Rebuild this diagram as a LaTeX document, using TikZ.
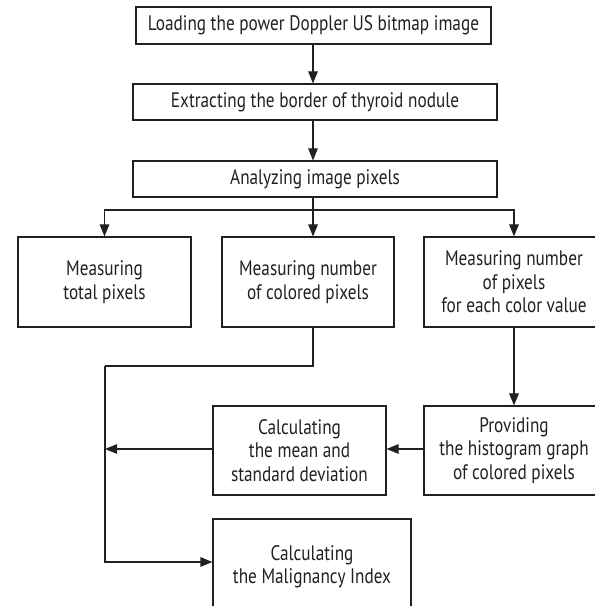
\documentclass[tikz,border=0pt]{standalone}
\usepackage{fontspec}
\setmainfont[FakeStretch=0.82]{PT Sans}
\usetikzlibrary{arrows.meta,calc}
\definecolor{ink}{HTML}{231F20}
\begin{document}
\begin{tikzpicture}[x=1pt,y=1pt,
  box/.style={draw=ink,line width=1.1pt,inner sep=0pt,align=center,text=ink,
    font=\fontsize{21}{23.5}\selectfont},
  conn/.style={draw=ink,line width=1.1pt},
  arr/.style={conn,-{Triangle[length=12pt,width=9.5pt]}}]
\useasboundingbox (0,0) rectangle (595,606);
% y_tikz = 606 - y_px
\node[box,minimum width=355pt,minimum height=37pt] (b1) at (313.5,{606-25.5}) {Loading the power Doppler US bitmap image};
\node[box,minimum width=364pt,minimum height=36pt] (b2) at (315,{606-102}) {Extracting the border of thyroid nodule};
\node[box,minimum width=364pt,minimum height=36pt] (b3) at (315,{606-179}) {Analyzing image pixels};
\node[box,minimum width=173pt,minimum height=90pt] (tot) at (104.5,{606-282}) {Measuring\\total pixels};
\node[box,minimum width=172pt,minimum height=90pt] (col) at (308,{606-282}) {Measuring number\\of colored pixels};
\node[box,minimum width=180pt,minimum height=90pt] (each) at (514,{606-282}) {Measuring number\\of pixels\\for each color value};
\node[box,minimum width=180pt,minimum height=89pt] (hist) at (514,{606-450.5}) {Providing\\the histogram graph\\of colored pixels};
\node[box,minimum width=173pt,minimum height=89pt] (mean) at (299.5,{606-450.5}) {Calculating\\the mean and\\standard deviation};
\node[box,minimum width=198pt,minimum height=96pt] (mal) at (312,{606-567}) {Calculating\\the Malignancy Index};
\coordinate (s1) at (313,{606-44});
\coordinate (s2) at (313,{606-120});
\coordinate (s3) at (313,{606-197});
\coordinate (h) at (313,{606-210});
\coordinate (cb) at (313,{606-327});
\coordinate (lp) at (105,{606-366});
\coordinate (lm) at (105,{606-449});
\coordinate (lb) at (105,{606-562});
\draw[arr] (s1) -- (s1 |- b2.north);
\draw[arr] (s2) -- (s2 |- b3.north);
\draw[conn] (s3) -- (h);
\draw[arr] (h) -| (tot.north);
\draw[arr] (h) -- (h |- col.north);
\draw[arr] (h) -| (each.north);
\draw[arr] (each.south) -- (hist.north);
\draw[arr] (hist.west |- 0,{606-449}) -- (mean.east |- 0,{606-449});
\draw[arr] (mean.west |- 0,{606-449}) -- (lm);
\draw[conn] (cb) -- (cb |- lp) -- (lp);
\draw[arr] (lp) -- (lb) -- (mal.west |- lb);
\end{tikzpicture}
\end{document}
